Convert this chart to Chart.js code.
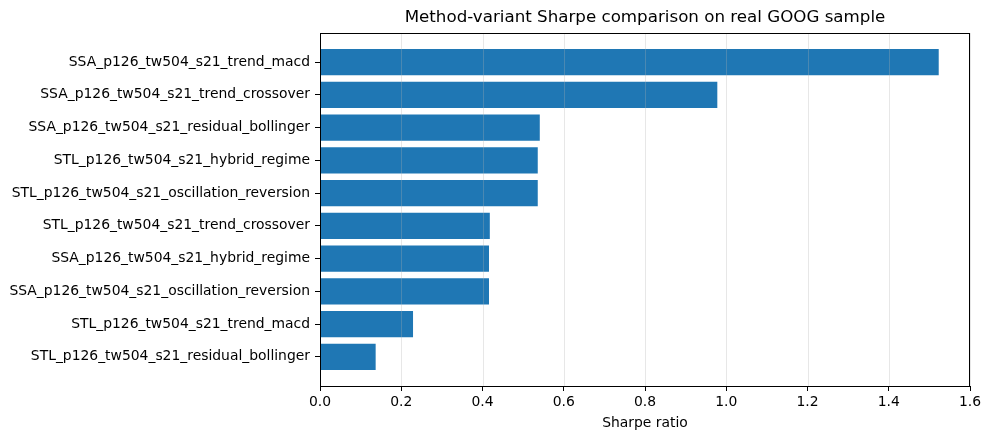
<!DOCTYPE html>
<html>
<head>
<meta charset="utf-8">
<script src="https://cdn.jsdelivr.net/npm/chart.js@4"></script>
<style>
  html, body { margin: 0; padding: 0; background: #fff; }
  #wrap { width: 990px; height: 440px; }
</style>
</head>
<body>
<div id="wrap"><canvas id="myChart" width="990" height="440"></canvas></div>
<script>
const variants = [
    'SSA_p126_tw504_s21_trend_macd',
    'SSA_p126_tw504_s21_trend_crossover',
    'SSA_p126_tw504_s21_residual_bollinger',
    'STL_p126_tw504_s21_hybrid_regime',
    'STL_p126_tw504_s21_oscillation_reversion',
    'STL_p126_tw504_s21_trend_crossover',
    'SSA_p126_tw504_s21_hybrid_regime',
    'SSA_p126_tw504_s21_oscillation_reversion',
    'STL_p126_tw504_s21_trend_macd',
    'STL_p126_tw504_s21_residual_bollinger'
];
const sharpe = [1.523, 0.978, 0.541, 0.536, 0.536, 0.418, 0.416, 0.416, 0.229, 0.137];
const xTickValues = [0, 0.2, 0.4, 0.6, 0.8, 1.0, 1.2, 1.4, 1.6];

const titleText = 'Method-variant Sharpe comparison on real GOOG sample';
const FONT = "'DejaVu Sans', sans-serif";

// light vertical grid drawn over the bars (matplotlib default order), then frame + title
const framePlugin = {
    id: 'frame',
    afterDatasetsDraw(chart) {
        const { ctx, chartArea: a, scales } = chart;
        ctx.save();
        ctx.strokeStyle = 'rgba(176,176,176,0.3)';
        ctx.lineWidth = 1;
        xTickValues.forEach(v => {
            const px = Math.round(scales.x.getPixelForValue(v)) + 0.5;
            ctx.beginPath();
            ctx.moveTo(px, a.top);
            ctx.lineTo(px, a.bottom);
            ctx.stroke();
        });
        ctx.restore();
    },
    afterDraw(chart) {
        const { ctx, chartArea: a } = chart;
        ctx.save();
        ctx.strokeStyle = '#000';
        ctx.lineWidth = 1;
        ctx.strokeRect(Math.round(a.left) + 0.5, Math.round(a.top) + 0.5,
            Math.round(a.right - a.left) - 1, Math.round(a.bottom - a.top));
        ctx.fillStyle = '#000';
        ctx.font = '16.7px ' + FONT;
        ctx.textAlign = 'center';
        ctx.textBaseline = 'middle';
        ctx.fillText(titleText, (a.left + a.right) / 2, 18);
        ctx.restore();
    }
};

const ctx = document.getElementById('myChart').getContext('2d');
new Chart(ctx, {
    type: 'bar',
    data: {
        datasets: [{
            data: sharpe.map((v, i) => ({ x: v, y: i })),
            backgroundColor: '#1f77b4',
            borderWidth: 0,
            categoryPercentage: 1,
            barPercentage: 0.8
        }]
    },
    options: {
        indexAxis: 'y',
        responsive: false,
        animation: false,
        layout: { padding: { top: 33, right: 20, left: 0, bottom: 0 } },
        plugins: {
            legend: { display: false },
            tooltip: { enabled: false }
        },
        scales: {
            x: {
                type: 'linear',
                min: 0,
                max: 1.6,
                afterBuildTicks: s => { s.ticks = xTickValues.map(v => ({ value: v })); },
                afterFit: s => { s.height = 54; },
                ticks: {
                    color: '#000',
                    font: { family: FONT, size: 13.9 },
                    padding: 3,
                    callback: v => v.toFixed(1)
                },
                grid: {
                    drawOnChartArea: false,
                    tickColor: '#000',
                    tickLength: 5
                },
                border: { color: '#000' },
                title: {
                    display: true,
                    text: 'Sharpe ratio',
                    color: '#000',
                    font: { family: FONT, size: 13.9 },
                    padding: { top: 2, bottom: 8 }
                }
            },
            y: {
                type: 'linear',
                reverse: true,
                offset: false,
                min: -0.89,
                max: 9.89,
                afterBuildTicks: s => { s.ticks = variants.map((_, i) => ({ value: i })); },
                afterFit: s => { s.width = 320; },
                ticks: {
                    color: '#000',
                    autoSkip: false,
                    font: { family: FONT, size: 13.9 },
                    padding: 5,
                    callback: v => variants[v]
                },
                grid: {
                    offset: false,
                    drawOnChartArea: false,
                    tickColor: '#000',
                    tickLength: 5
                },
                border: { color: '#000' }
            }
        }
    },
    plugins: [framePlugin]
});
</script>
</body>
</html>
